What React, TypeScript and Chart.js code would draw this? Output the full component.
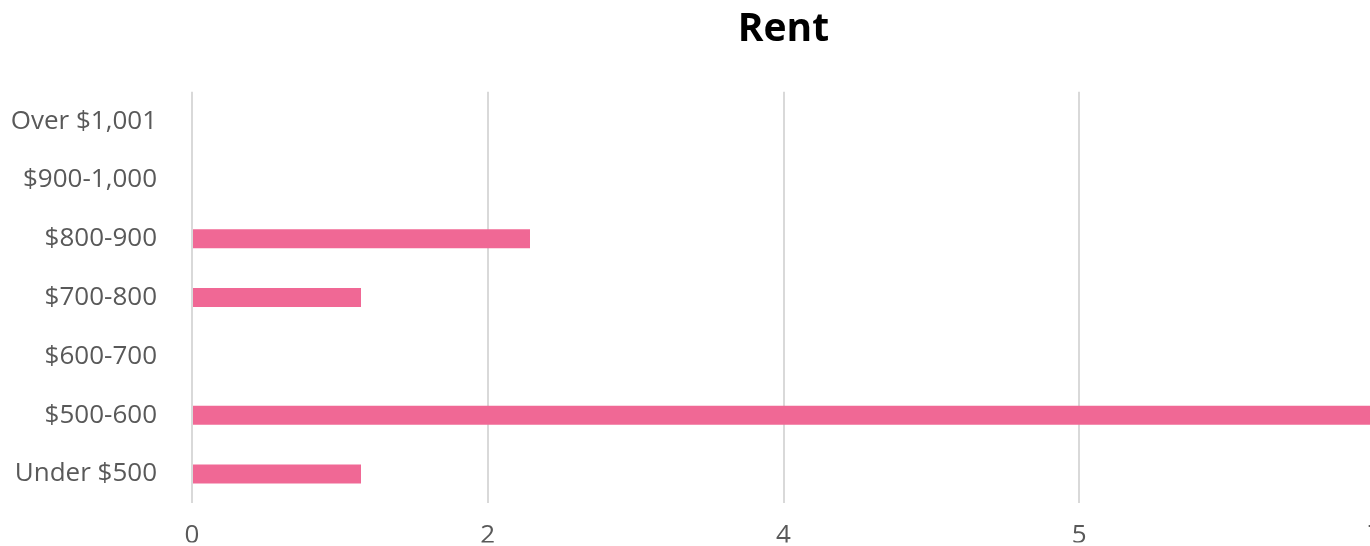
import React, { useEffect, useRef } from "react";
import { Chart, registerables } from "chart.js";

Chart.register(...registerables);

const chartTitle = "Rent";
const categories = [
  "Under $500",
  "$500-600",
  "$600-700",
  "$700-800",
  "$800-900",
  "$900-1,000",
  "Over $1,001",
];
const counts = [1, 7, 0, 1, 2, 0, 0];
const xMin = 0;
const xMax = 7;
const xStep = 1.75;
const xTickLabels = ["0", "2", "4", "5", "7"];

const titleOverPlot = {
  id: "titleOverPlot",
  afterLayout(chart: any) {
    const tb = chart.titleBlock;
    if (tb) {
      tb.left = chart.chartArea.left;
      tb.right = chart.chartArea.right;
      tb.width = tb.right - tb.left;
    }
  },
};

export default function App() {
  const ref = useRef<HTMLCanvasElement | null>(null);

  useEffect(() => {
    if (!ref.current) return;
    const chart = new Chart(ref.current, {
      type: "bar",
      data: {
        labels: categories,
        datasets: [
          {
            label: chartTitle,
            data: counts,
            backgroundColor: "#F06895",
            borderWidth: 0,
            inflateAmount: 0,
            barThickness: 19,
          },
        ],
      },
      options: {
        indexAxis: "y",
        responsive: false,
        animation: false,
        devicePixelRatio: 1,
        layout: { padding: { left: 0, right: 191, top: 0, bottom: 0 } },
        plugins: {
          legend: { display: false },
          tooltip: { enabled: false },
          title: {
            display: true,
            text: chartTitle,
            color: "#000000",
            font: { family: "'Open Sans'", size: 39, weight: "bold", lineHeight: 1.2 },
            padding: { top: 6, bottom: 39 },
          },
        },
        scales: {
          x: {
            type: "linear",
            min: xMin,
            max: xMax,
            afterBuildTicks: (scale: any) => {
              const t = [];
              for (let i = 0; i < xTickLabels.length; i++) t.push({ value: xMin + i * xStep });
              scale.ticks = t;
            },
            afterFit: (scale: any) => {
              scale.height = 39;
            },
            ticks: {
              callback: (_v: any, i: number) => xTickLabels[i],
              color: "#595959",
              font: { family: "'Open Sans'", size: 26 },
              padding: 17,
              maxRotation: 0,
              minRotation: 0,
            },
            grid: {
              color: "#d9d9d9",
              lineWidth: 2,
              drawTicks: false,
            },
            border: { display: false },
          },
          y: {
            type: "category",
            reverse: true,
            afterFit: (scale: any) => {
              scale.width = 192;
            },
            ticks: {
              color: "#595959",
              font: { family: "'Open Sans'", size: 26 },
              padding: 27,
            },
            grid: { display: false },
            border: { display: false },
          },
        },
      },
      plugins: [titleOverPlot],
    });
    return () => chart.destroy();
  }, []);

  return (
    <div
      style={{
        position: "fixed",
        left: 0,
        top: 0,
        width: 1370,
        height: 546,
        overflow: "hidden",
        background: "#ffffff",
      }}
    >
      <canvas ref={ref} width={1566} height={546} style={{ width: 1566, height: 546, display: "block" }} />
    </div>
  );
}
